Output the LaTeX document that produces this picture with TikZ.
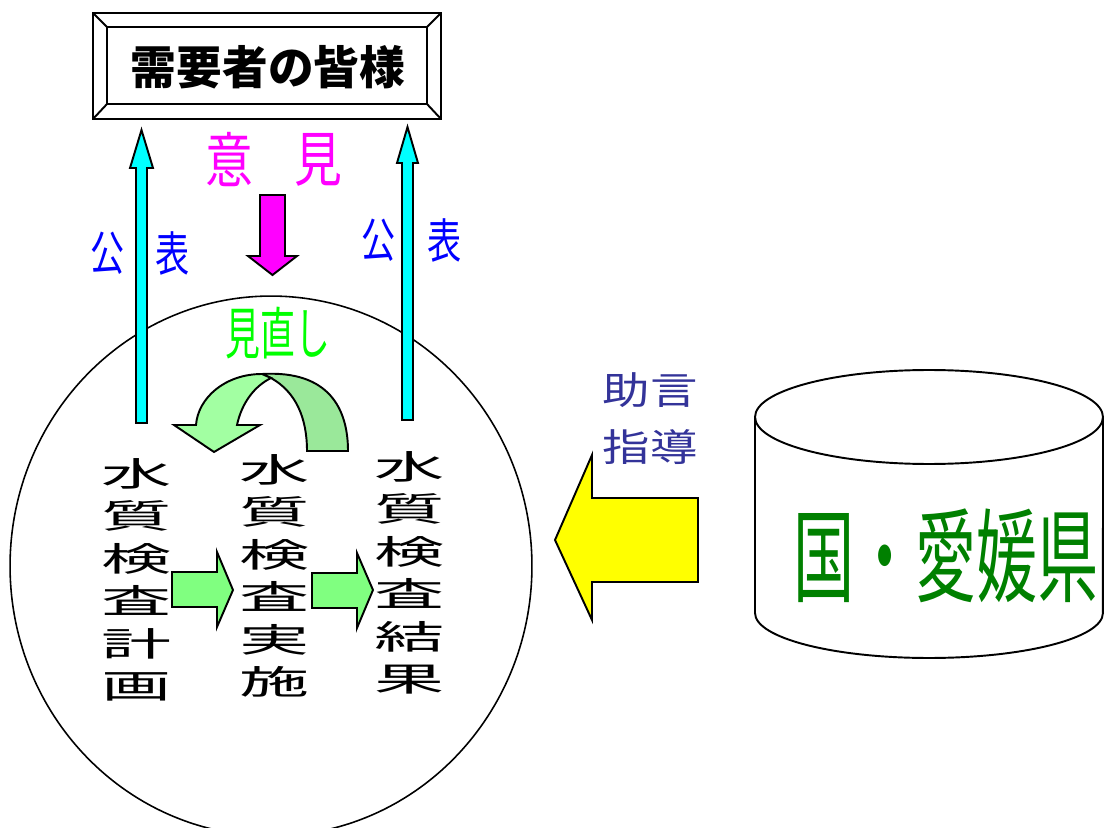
\documentclass[tikz,border=0pt]{standalone}
\usepackage{fontspec}
\newfontfamily\jp{Noto Sans CJK JP}
\newfontfamily\jpcol[FakeStretch=2.1]{Noto Sans CJK JP}
\newfontfamily\jpiken[FakeStretch=0.8]{Noto Sans CJK JP}
\newfontfamily\jpkoh[FakeStretch=0.72]{Noto Sans CJK JP}
\newfontfamily\jpmina[FakeStretch=0.62]{Noto Sans CJK JP}
\newfontfamily\jpjogen[FakeStretch=1.25]{Noto Sans CJK JP}
\newfontfamily\jpken[FakeStretch=0.6]{Noto Sans CJK JP}
\definecolor{cyanA}{HTML}{00FFFF}
\definecolor{magA}{HTML}{FF00FF}
\definecolor{grnArrow}{HTML}{80FF80}
\definecolor{grnLight}{HTML}{A2FFA2}
\definecolor{grnDark}{HTML}{9AE89A}
\definecolor{yelA}{HTML}{FFFF00}
\definecolor{grnText}{HTML}{00FF00}
\definecolor{grnDeep}{HTML}{008000}
\definecolor{navyT}{HTML}{333399}
\definecolor{blueT}{HTML}{0000FF}
\tikzset{
  blockarrow/.style={draw=black, line width=1.1pt, line join=miter},
  txt/.style={inner sep=0pt, anchor=center},
  frameline/.style={draw=black, line width=1.1pt},
  colfont/.style={font={\jpcol\fontsize{19pt}{24.2pt}\selectfont}, align=center},
}
\begin{document}
\begin{tikzpicture}[x=0.02cm,y=-0.02cm]
\useasboundingbox (0,0) rectangle (1107,828);

% big circle
\draw[line width=0.9pt] (271,566) ellipse [x radius=5.22cm, y radius=5.4cm];

% title frame
\draw[frameline] (93,13) rectangle (441,119);
\draw[frameline] (107,27) rectangle (427,104);
\draw[frameline] (93,13) -- (107,27);
\draw[frameline] (441,13) -- (427,27);
\draw[frameline] (93,119) -- (107,104);
\draw[frameline] (441,119) -- (427,104);
\node[txt] (title) at (268,67) {\jp\bfseries\fontsize{26pt}{26pt}\selectfont 需要者の皆様};

% cyan arrows
\path[blockarrow, fill=cyanA] (136,423) -- (136,168) -- (130,168) -- (141.5,130) -- (153,168) -- (147,168) -- (147,423) -- cycle;
\path[blockarrow, fill=cyanA] (402,420) -- (402,163) -- (397,163) -- (407.5,127) -- (418,163) -- (413,163) -- (413,420) -- cycle;

% 公表 labels
\node[txt, text=blueT] (koL) at (108,253) {\jpkoh\fontsize{27pt}{27pt}\selectfont 公};
\node[txt, text=blueT] (hyL) at (173,253) {\jpkoh\fontsize{27pt}{27pt}\selectfont 表};
\node[txt, text=blueT] (koR) at (379,240) {\jpkoh\fontsize{27pt}{27pt}\selectfont 公};
\node[txt, text=blueT] (hyR) at (445,240) {\jpkoh\fontsize{27pt}{27pt}\selectfont 表};

% 意見
\node[txt, text=magA] (i) at (229,160) {\jpiken\fontsize{34pt}{34pt}\selectfont 意};
\node[txt, text=magA] (ken) at (318,160) {\jpiken\fontsize{34pt}{34pt}\selectfont 見};
\path[blockarrow, fill=magA] (260,195) -- (285,195) -- (285,256) -- (297,256) -- (272.5,275) -- (248,256) -- (260,256) -- cycle;

% 見直し
\node[txt, text=grnText] (minaoshi) at (278,333) {\jpmina\fontsize{32pt}{32pt}\selectfont 見直し};

% U-turn arrow
\path[blockarrow, fill=grnDark] (262,374) .. controls (330,370) and (348,410) .. (348,451) -- (307,451) .. controls (307,418) and (296,392) .. (271,378) -- cycle;
\path[blockarrow, fill=grnLight] (262,374) .. controls (225,374) and (198,398) .. (196,425) -- (174,425) -- (214,452) -- (260,425) -- (237,425) .. controls (242,402) and (255,386) .. (271,378) -- cycle;

% columns
\node[txt, colfont] (plan) at (137,580) {水\\質\\検\\査\\計\\画};
\node[txt, colfont] (exec) at (275,576) {水\\質\\検\\査\\実\\施};
\node[txt, colfont] (res) at (410,573) {水\\質\\検\\査\\結\\果};

% green block arrows
\path[blockarrow, fill=grnArrow] (172,572) -- (217,572) -- (217,552) -- (233,590) -- (217,627) -- (217,607) -- (172,607) -- cycle;
\path[blockarrow, fill=grnArrow] (312,573) -- (357,573) -- (357,553) -- (373,590) -- (357,628) -- (357,608) -- (312,608) -- cycle;

% yellow arrow
\path[blockarrow, fill=yelA] (698,498) -- (592,498) -- (592,455) -- (555,540) -- (592,620) -- (592,582) -- (698,582) -- cycle;

% 助言 指導
\node[txt, align=center, text=navyT, font={\jpjogen\fontsize{21.6pt}{32.4pt}\selectfont}] (advice) at (650,419) {助言\\指導};

% cylinder
\draw[line width=1.1pt] (755,417) -- (755,613) arc[start angle=180, end angle=360, x radius=3.48cm, y radius=0.9cm] -- (1103,417);
\draw[line width=1.1pt] (929,417) ellipse [x radius=3.48cm, y radius=0.94cm];
\node[txt, text=grnDeep] (kuni) at (946,556) {\jpken\fontsize{58pt}{58pt}\selectfont 国・愛媛県};

\end{tikzpicture}
\end{document}
